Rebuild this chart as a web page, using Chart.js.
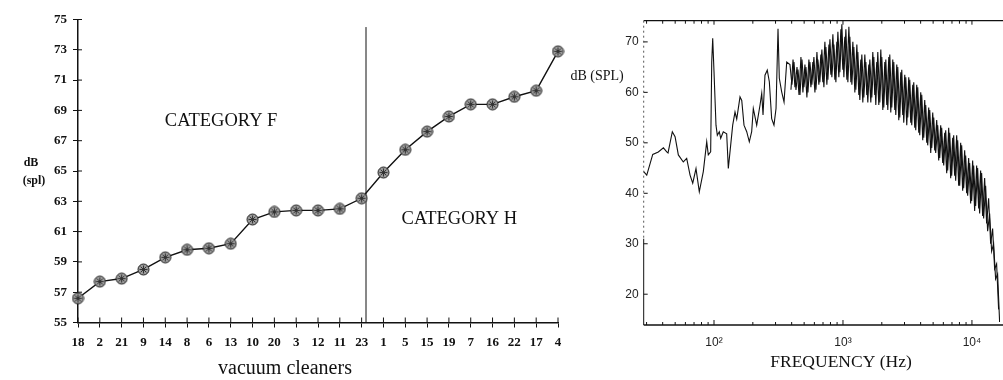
<!DOCTYPE html>
<html>
<head>
<meta charset="utf-8">
<script src="https://cdn.jsdelivr.net/npm/chart.js"></script>
<style>
body { margin: 0; background: #fff; }
#wrap { position: relative; width: 1003px; height: 380px; }
canvas { position: absolute; top: 0; }
#left { left: 0; }
#right { left: 555px; }
</style>
</head>
<body>
<div id="wrap">
<canvas id="left" width="570" height="380"></canvas>
<canvas id="right" width="448" height="380"></canvas>
</div>
<script>
// Left panel: vacuum cleaners ranked by level
var cleaners = ['18','2','21','9','14','8','6','13','10','20','3','12','11','23','1','5','15','19','7','16','22','17','4'];
var cleanerLevels = [56.6,57.7,57.9,58.5,59.3,59.8,59.9,60.2,61.8,62.3,62.4,62.4,62.5,63.2,64.9,66.4,67.6,68.6,69.4,69.4,69.9,70.3,72.9];
var levelTicks = [55,57,59,61,63,65,67,69,71,73,75];
var splitAt = 13.2; // F / H boundary, in category index units

// Right panel: spectrum
var freqHz = [28.5,30.1,33.5,37.0,40.5,43.0,44.0,47.5,49.9,52.9,57.8,61.4,65.2,68.4,72.5,76.9,82.6,87.8,90.3,94.2,
  96.0,97.7,100,103.6,106.1,109.9,112.7,118.0,125.4,129.1,134.6,139.6,145.5,150.0,159.1,164.1,170.8,179.3,187.8,195.9,
  201.7,214.3,227.4,234.4,239.9,248.4,258.8,268.5,279.9,291.7,302.6,313.5,320.9,334.7,349.1,366.2,
  388,402,417,432,448,464,481,498,516,535,554,574,595,617,639,662,686,711,737,764,
  792,820,850,881,913,946,980,1016,1053,1091,1131,1172,1214,1258,1304,1351,1400,1451,1504,1558,
  1615,1673,1734,1797,1862,1930,2000,2072,2148,2226,2306,2390,2477,2567,2660,2756,2856,2960,3067,3179,
  3294,3414,3538,3666,3799,3937,4080,4228,4381,4540,4705,4876,5053,5236,5426,5623,5827,6039,6258,6485,
  6720,6964,7217,7479,7750,8032,8323,8625,8938,9263,9599,9947,10308,10682,11070,11472,11888,12320,12767,13230,
  13711,14208,14724,15258,15812,16386];
var splDb = [44.3,43.6,47.7,48.2,49.0,48.2,48.0,52.2,51.2,47.6,46.2,46.9,43.6,42.0,44.9,40.3,44.3,50.2,47.6,48.2,
  66.0,70.7,64.1,53.5,51.5,52.2,50.9,52.2,51.8,44.9,49.5,53.5,56.1,54.7,59.1,58.4,53.5,52.2,50.2,52.2,
  56.8,53.5,57.5,59.8,55.5,63.4,64.4,62.1,54.8,53.5,56.8,72.6,62.8,60.1,58.1,66.0,
  65.5,61.5,66,60.5,64.5,59.5,66.5,61,65,60,66,61.5,67,60.5,66.5,62,68.5,61,69,62.5,
  70.5,63,69.5,62,72,64,73.5,63,72.5,62,71,61.5,69,60.5,68,58.5,67.5,59,66,58,
  66.5,59,67,57.5,68,58,67,57,66.5,56.5,67.5,57,66,55.5,65,55,64.5,54,63,55,
  62.5,53.5,62,52.5,61,51.5,59.5,51,57.5,49.5,56.5,49,55,48,53.5,47,53,45.5,52.5,44.5,
  52,43.5,51.5,42.5,50.5,41.5,49.5,41,47.5,39.5,46,38.5,45.5,37.5,45,36,44,35,41.5,32.5,
  36,28.5,30,23,24,14.5];
// samples between the ones above, upper band
var freqHzMid = [395,410,424,440,456,472,489,507,525,544,564,584,606,628,650,674,698,724,750,778,
  806,835,865,897,929,963,998,1034,1072,1111,1151,1193,1236,1281,1327,1375,1425,1477,1531,1586,
  1644,1703,1765,1829,1896,1965,2036,2110,2187,2266,2348,2433,2522,2613,2708,2806,2908,3013,3123,3236,
  3354,3476,3602,3732,3868,4008,4154,4304,4460,4622,4790,4964,5144,5330,5524,5724,5932,6148,6371,6602,
  6841,7090,7347,7614,7890,8176,8473,8780,9099,9430,9772,10126,10494,10875,11270,11678,12102,12542,12997,13469,
  13958,14464,14989,15533,16097];
var splDbMid = [60.5,66.5,61,65,59.5,67,60,65.5,59,66.5,61,66,60,68,61.5,67.5,62,70,61.5,69.5,
  63.5,71.5,62.5,70,63,72.5,64.5,71,62.5,73,62,70,60,69.5,59.5,66.5,58,67.5,59.5,65.5,
  58,68,59.5,66,57.5,68.5,56.5,66,57.5,67,56,66.5,56.5,65.5,54.5,64,55.5,63.5,53.5,63,
  54,61.5,53,61.5,52,60,50.5,58.5,50,57,48,56,48.5,54.5,46.5,53.5,46,52,44,53,
  43,51,43.5,51.5,41.5,50,40.5,48.5,40,47,38,46.5,36.5,45.5,37,44.5,35.5,43,34,39,
  30,33,25,26,17];
var splTicks = [20,30,40,50,60,70];
var decadeTicks = [100,1000,10000];
var decadeLabels = ['10²','10³','10⁴'];

function line(ctx, x1, y1, x2, y2) {
  ctx.beginPath(); ctx.moveTo(x1, y1); ctx.lineTo(x2, y2); ctx.stroke();
}

// gray disc with an asterisk, like the printed markers
function makeMarker() {
  var c = document.createElement('canvas');
  c.width = 13; c.height = 13;
  var g = c.getContext('2d');
  g.fillStyle = '#9a9a9a';
  g.strokeStyle = '#222';
  g.lineWidth = 1;
  g.beginPath(); g.arc(6.5, 6.5, 5.5, 0, Math.PI * 2); g.fill(); g.stroke();
  g.strokeStyle = '#333';
  for (var i = 0; i < 4; i++) {
    var t = i * Math.PI / 4;
    line(g, 6.5 - Math.cos(t) * 4, 6.5 - Math.sin(t) * 4, 6.5 + Math.cos(t) * 4, 6.5 + Math.sin(t) * 4);
  }
  return c;
}

var leftDecor = {
  id: 'leftDecor',
  beforeDatasetsDraw: function(chart) {
    var ctx = chart.ctx, a = chart.chartArea, x = chart.scales.x, y = chart.scales.y;
    ctx.save();
    ctx.strokeStyle = '#111';
    ctx.lineWidth = 1;
    line(ctx, x.getPixelForValue(splitAt), y.getPixelForValue(74.5), x.getPixelForValue(splitAt), a.bottom);
    // inner half of the tick marks
    levelTicks.forEach(function(v) {
      var py = y.getPixelForValue(v);
      line(ctx, a.left, py, a.left + 4, py);
    });
    cleaners.forEach(function(c, i) {
      var px = x.getPixelForValue(i);
      line(ctx, px, a.bottom, px, a.bottom - 5);
    });
    ctx.fillStyle = '#111';
    ctx.textAlign = 'center';
    ctx.textBaseline = 'middle';
    ctx.font = '18.5px "Liberation Serif"';
    ctx.fillText('CATEGORY F', x.getPixelForValue(6.56), y.getPixelForValue(68.3));
    ctx.fillText('CATEGORY H', x.getPixelForValue(17.48), y.getPixelForValue(61.8));
    ctx.font = 'bold 12px "Liberation Serif"';
    ctx.fillText('dB', a.left - 47, 163);
    ctx.fillText('(spl)', a.left - 44, 181);
    ctx.font = '20px "Liberation Serif"';
    ctx.fillText('vacuum cleaners', 285, 369);
    ctx.restore();
  }
};

var rightDecor = {
  id: 'rightDecor',
  afterDraw: function(chart) {
    var ctx = chart.ctx, a = chart.chartArea, x = chart.scales.x, y = chart.scales.y;
    ctx.save();
    ctx.strokeStyle = '#111';
    ctx.lineWidth = 1.2;
    line(ctx, a.left, a.top, chart.width, a.top);
    ctx.lineWidth = 1.5;
    line(ctx, a.left, a.bottom, a.right + 3, a.bottom);
    // left axis: dotted in the upper part, solid lower down
    ctx.lineWidth = 1;
    ctx.strokeStyle = '#555';
    ctx.setLineDash([2, 3]);
    line(ctx, a.left, a.top, a.left, y.getPixelForValue(31));
    ctx.setLineDash([]);
    ctx.strokeStyle = '#111';
    line(ctx, a.left, y.getPixelForValue(31), a.left, a.bottom);
    splTicks.forEach(function(v) {
      var py = y.getPixelForValue(v);
      line(ctx, a.left, py, a.left + 4, py);
    });
    decadeTicks.forEach(function(d) {
      var px = x.getPixelForValue(d);
      line(ctx, px, a.bottom, px, a.bottom - 5);
      line(ctx, px, a.top, px, a.top + 4);
    });
    [10, 100, 1000, 10000].forEach(function(d) {
      for (var k = 2; k < 10; k++) {
        var f = d * k;
        if (f < x.min || f > x.max) continue;
        var px = x.getPixelForValue(f);
        line(ctx, px, a.bottom, px, a.bottom - 3);
        line(ctx, px, a.top, px, a.top + 3);
      }
    });
    ctx.fillStyle = '#111';
    ctx.textBaseline = 'middle';
    ctx.textAlign = 'right';
    ctx.font = '14px "Liberation Serif"';
    ctx.fillText('dB (SPL)', a.left - 20, 76);
    ctx.textAlign = 'center';
    ctx.font = '17.5px "Liberation Serif"';
    ctx.fillText('FREQUENCY (Hz)', 286, 362);
    ctx.restore();
  }
};

new Chart(document.getElementById('left'), {
  type: 'line',
  data: {
    labels: cleaners,
    datasets: [{
      data: cleanerLevels,
      borderColor: '#111',
      borderWidth: 1.4,
      tension: 0,
      pointStyle: makeMarker(),
      pointRadius: 6
    }]
  },
  options: {
    responsive: false,
    animation: false,
    devicePixelRatio: 1,
    layout: { padding: { left: 0, top: 19.5, right: 12, bottom: 0 } },
    plugins: { legend: { display: false }, tooltip: { enabled: false } },
    scales: {
      x: {
        offset: false,
        grid: { drawOnChartArea: false, drawTicks: true, tickLength: 5, color: '#111' },
        border: { color: '#111', width: 1.5 },
        ticks: { color: '#111', font: { family: 'Liberation Serif', size: 13, weight: 'bold' }, padding: 7, maxRotation: 0, autoSkip: false },
        afterFit: function(s) { s.height = 57.5; }
      },
      y: {
        min: 55,
        max: 75,
        afterBuildTicks: function(s) { s.ticks = levelTicks.map(function(v) { return { value: v }; }); },
        grid: { drawOnChartArea: false, drawTicks: true, tickLength: 5, color: '#111' },
        border: { color: '#111', width: 1.5 },
        ticks: { color: '#111', font: { family: 'Liberation Serif', size: 13, weight: 'bold' }, padding: 6 },
        afterFit: function(s) { s.width = 78; }
      }
    }
  },
  plugins: [leftDecor]
});

new Chart(document.getElementById('right'), {
  type: 'line',
  data: {
    datasets: [{
      data: freqHz.map(function(f, i) { return { x: f, y: splDb[i] }; }),
      borderColor: '#111',
      borderWidth: 1.1,
      pointRadius: 0,
      tension: 0
    }, {
      data: freqHzMid.map(function(f, i) { return { x: f, y: splDbMid[i] }; }),
      borderColor: '#111',
      borderWidth: 1.1,
      pointRadius: 0,
      tension: 0
    }]
  },
  options: {
    responsive: false,
    animation: false,
    devicePixelRatio: 1,
    layout: { padding: { left: 0, top: 20.7, right: 3, bottom: 0 } },
    plugins: { legend: { display: false }, tooltip: { enabled: false } },
    scales: {
      x: {
        type: 'logarithmic',
        min: 28.5,
        max: 16500,
        afterBuildTicks: function(s) { s.ticks = decadeTicks.map(function(v) { return { value: v }; }); },
        grid: { display: false, drawTicks: false },
        border: { display: false },
        ticks: {
          color: '#222',
          font: { family: 'Liberation Sans', size: 12 },
          padding: 10,
          maxRotation: 0,
          autoSkip: false,
          callback: function(v, i) { return decadeLabels[i]; }
        },
        afterFit: function(s) { s.height = 55; }
      },
      y: {
        min: 13.9,
        max: 74.2,
        afterBuildTicks: function(s) { s.ticks = splTicks.map(function(v) { return { value: v }; }); },
        grid: { display: false, drawTicks: false },
        border: { display: false },
        ticks: { color: '#222', font: { family: 'Liberation Sans', size: 12 }, padding: 5 },
        afterFit: function(s) { s.width = 88.7; }
      }
    }
  },
  plugins: [rightDecor]
});
</script>
</body>
</html>
